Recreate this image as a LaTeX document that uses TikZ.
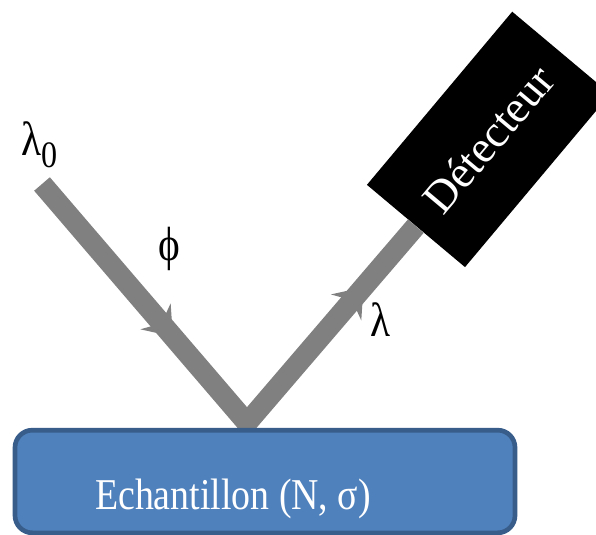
\documentclass[tikz,border=0pt]{standalone}
\usepackage{fontspec}
\setmainfont{Liberation Serif}
\usetikzlibrary{arrows.meta,decorations.markings}

\definecolor{beamgray}{RGB}{128,128,128}
\definecolor{samplefill}{RGB}{79,129,189}
\definecolor{sampledraw}{RGB}{56,93,138}

\tikzset{
    beam/.style={draw=beamgray, line width=15.5pt, line join=miter,
        postaction={decorate},
        decoration={markings,
            mark=at position 0.35 with {\arrow[color=beamgray]{Stealth[length=20pt,width=30pt,inset=7pt,line width=0pt]}},
            mark=at position 0.86 with {\arrow[color=beamgray]{Stealth[length=20pt,width=30pt,inset=7pt,line width=0pt]}}}},
    detector/.style={fill=black, text=white, rotate=50, inner sep=0pt,
        minimum width=169.5pt, minimum height=96pt,
        font=\fontsize{34}{40}\selectfont},
    samplebox/.style={fill=samplefill, draw=sampledraw, line width=3.5pt,
        rounded corners=13pt, minimum width=375pt, minimum height=77pt},
    squeeze/.style={xscale=0.86, inner sep=0pt, font=\fontsize{33}{40}\selectfont},
    greek/.style={squeeze, font=\fontsize{36}{40}\selectfont}
}

\begin{document}
\begin{tikzpicture}[x=0.75pt,y=-0.75pt]
    \clip (0,0) rectangle (596,535);
    \fill[white] (0,0) rectangle (596,535);
    \coordinate (src) at (42,184);
    \coordinate (hit) at (247,423);
    \node[detector] (det) at (488.6,139.4) {Détecteur};
    \draw[beam] (src) -- (hit) -- (det.west);
    \node[samplebox] (sample) at (265,481.5) {};
    \node[squeeze, text=white, anchor=base] (samplelabel) at (233,509) {Echantillon (N, σ)};
    \node[greek, anchor=base west] (lambda0) at (21,155) {λ\raisebox{-0.27em}{\fontsize{28}{28}\selectfont 0}};
    \node[greek] (phi) at (169,249) {ϕ};
    \node[greek] (lambda) at (381,320) {λ};
\end{tikzpicture}
\end{document}
